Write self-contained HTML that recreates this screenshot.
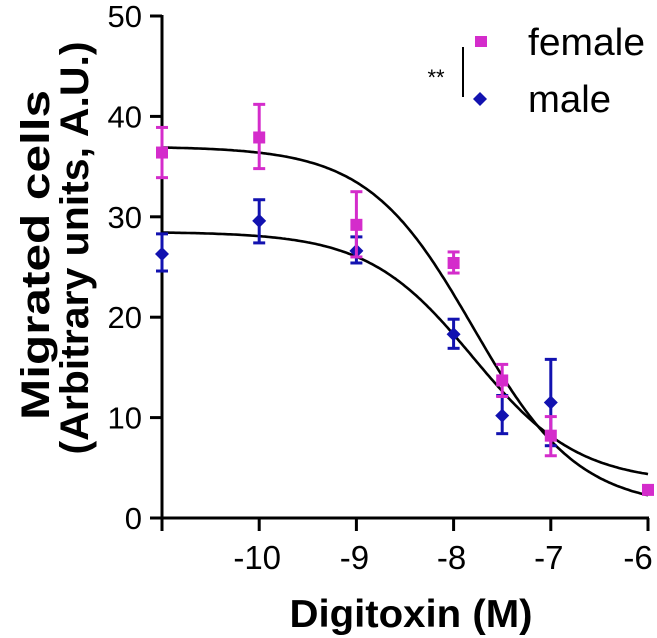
<!DOCTYPE html>
<html><head><meta charset="utf-8"><style>
body{margin:0;background:#fff;}
svg{display:block;font-family:"Liberation Sans",Arial,sans-serif;}
</style></head><body>
<svg id="chart" width="657" height="638" viewBox="0 0 657 638">
<g id="axes"></g><g id="curves"></g><g id="marks"></g>
<text x="411" y="627" font-size="39" font-weight="bold" text-anchor="middle" textLength="243" lengthAdjust="spacingAndGlyphs">Digitoxin (M)</text>
<g transform="rotate(-90)">
<text x="-255" y="49" font-size="40" font-weight="bold" text-anchor="middle" textLength="330" lengthAdjust="spacingAndGlyphs">Migrated cells</text>
<text x="-248" y="88" font-size="40" font-weight="bold" text-anchor="middle" textLength="413" lengthAdjust="spacingAndGlyphs">(Arbitrary units, A.U.)</text>
</g>
<g>
<rect x="475" y="36" width="12" height="11" fill="#d42ccb"/>
<text x="528" y="55" font-size="38" textLength="117" lengthAdjust="spacingAndGlyphs">female</text>
<path d="M480,92 l7,7 l-7,7 l-7,-7z" fill="#1212b0"/>
<text x="528" y="112" font-size="38" textLength="83" lengthAdjust="spacingAndGlyphs">male</text>
<line x1="463" y1="47" x2="463" y2="97" stroke="#000" stroke-width="2"/>
<text x="436" y="85" font-size="22" text-anchor="middle">**</text>
</g>
</svg>
<script>
const xTicks=[-10,-9,-8,-7,-6];
const yTicks=[0,10,20,30,40,50];
const doses=[-11,-10,-9,-8,-7.5,-7,-6];
const femaleMean=[36.4,37.9,29.2,25.4,13.7,8.2,2.8];
const femaleLo=[33.9,34.8,26.0,24.4,12.1,6.2,2.8];
const femaleHi=[38.9,41.2,32.5,26.5,15.3,10.1,2.8];
const maleDoses=[-11,-10,-9,-8,-7.5,-7];
const maleMean=[26.3,29.6,26.6,18.3,10.2,11.5];
const maleLo=[24.6,27.4,25.4,16.9,8.4,7.2];
const maleHi=[28.3,31.7,28.0,19.8,12.2,15.8];
const femaleFit=[37,1,-7.8,0.8];
const maleFit=[28.5,3.5,-7.8,0.8];
const X=v=>162+(v+11)*97.2, Y=v=>518-v*10.04;
const NS="http://www.w3.org/2000/svg";
function mk(p,t,a){const e=document.createElementNS(NS,t);for(const k in a)e.setAttribute(k,a[k]);p.appendChild(e);return e;}
const ax=document.getElementById('axes');
let l=mk(ax,'line',{x1:162,y1:Y(0),x2:X(-6)+1,y2:Y(0),stroke:'#000','stroke-width':3});


l=mk(ax,'line',{x1:162,y1:Y(0)+1,x2:162,y2:Y(50)-1,stroke:'#000','stroke-width':3});


[-11].concat(xTicks).forEach(v=>{const t=mk(ax,'line',{x1:X(v),y1:Y(0),x2:X(v),y2:Y(0)+13,stroke:'#000','stroke-width':3});

});
xTicks.forEach(v=>{const t=mk(ax,'text',{x:Math.min(X(v)-2,638),y:569,'font-size':33,'text-anchor':'middle'});t.textContent=String(v);

});
yTicks.forEach(v=>{const t=mk(ax,'line',{x1:150,y1:Y(v),x2:162,y2:Y(v),stroke:'#000','stroke-width':3});


const s=mk(ax,'text',{x:142,y:Y(v)+11,'font-size':31,'text-anchor':'end'});s.textContent=v;

});
const cv=document.getElementById('curves');
function curve(p,name){let d='';for(let x=-11;x<=-6.0001+0.02;x+=0.02){const xx=Math.min(x,-6);const y=p[1]+(p[0]-p[1])/(1+Math.pow(10,(xx-p[2])*p[3]));d+=(d?'L':'M')+X(xx).toFixed(1)+','+Y(y).toFixed(1);}
const e=mk(cv,'path',{d:d,fill:'none',stroke:'#000','stroke-width':2.6});

}
curve(femaleFit,'female-fit-curve');curve(maleFit,'male-fit-curve');
const mg=document.getElementById('marks');
function series(xs,m,lo,hi,col,shape,name){xs.forEach((x,i)=>{const g=mk(mg,'g',{});


const cx=X(x);
if(hi[i]!==lo[i]){mk(g,'line',{x1:cx,y1:Y(lo[i]),x2:cx,y2:Y(hi[i]),stroke:col,'stroke-width':3});
mk(g,'line',{x1:cx-6,y1:Y(lo[i]),x2:cx+6,y2:Y(lo[i]),stroke:col,'stroke-width':3});
mk(g,'line',{x1:cx-6,y1:Y(hi[i]),x2:cx+6,y2:Y(hi[i]),stroke:col,'stroke-width':3});}
const cy=Y(m[i]);
if(shape==='sq')mk(g,'rect',{x:cx-6,y:cy-6,width:12,height:12,fill:col});
else mk(g,'path',{d:`M${cx},${cy-7}l7,7l-7,7l-7,-7z`,fill:col});});}
series(maleDoses,maleMean,maleLo,maleHi,'#1212b0','di','male');
series(doses,femaleMean,femaleLo,femaleHi,'#d42ccb','sq','female');
</script>
</body></html>
